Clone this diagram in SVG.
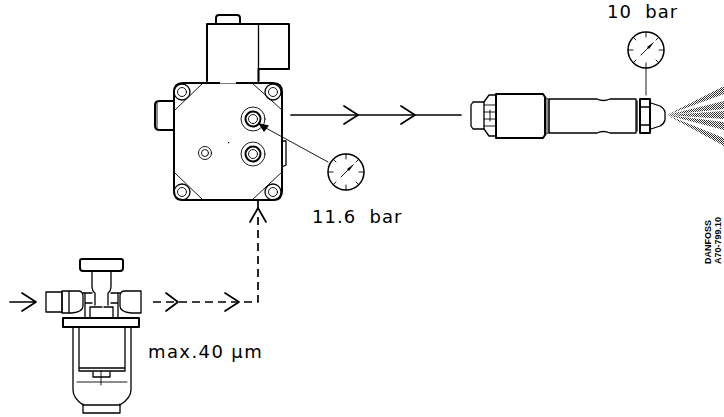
<svg xmlns="http://www.w3.org/2000/svg" width="724" height="417" viewBox="0 0 724 417">
<style>
.t{fill:none;stroke:#000;stroke-width:2;stroke-linejoin:round;stroke-linecap:round}
.m{fill:none;stroke:#000;stroke-width:1.3;stroke-linejoin:round;stroke-linecap:round}
.f{fill:none;stroke:#000;stroke-width:.9;stroke-linecap:round}
.c{fill:none;stroke:#000;stroke-width:1.7;stroke-linecap:round;stroke-linejoin:round}
.d{stroke-dasharray:8 5;stroke-linecap:butt}
.lab{font-family:"DejaVu Sans",sans-serif;font-size:18px;letter-spacing:1px;fill:#000}
.mk{font-family:"Liberation Sans",sans-serif;font-size:9px;font-weight:bold;fill:#000}
</style>
<defs>
<pattern id="dots" width="2" height="2" patternUnits="userSpaceOnUse"><rect width="1" height="1" fill="#000"/><rect x="1" y="1" width="1" height="1" fill="#000"/></pattern>
<g id="gauge">
<circle r="18" fill="#fff" stroke="#000" stroke-width="1.5"/>
<path class="f" d="M0-18V-13M0 18V13M-18 0H-13M18 0H13M-12.7-12.7L-10-10M12.700-12.700L10-10M-12.700 12.700L-10 10M12.700 12.700L10 10"/>
<path class="f" d="M-5 5L7-7" stroke-width="1.2"/>
<path d="M8-8L1-3L3-1Z" fill="#000"/>
</g>
</defs>

<g id="solenoid">
<path class="t" d="M216 24V18Q216 15 219 15H237Q240 15 240 18V24"/>
<path class="t" d="M207 81V24H289V69H259"/>
<path class="m" d="M258.500 24V81"/>
<path class="t" d="M258.500 69V81"/>
</g>

<g id="pump">
<path class="t" d="M174 101V92Q174 83 183 83H273Q282 83 282 92V191Q282 200 273 200H183Q174 200 174 191Z"/>
<rect x="220" y="81" width="16" height="2.500" fill="#fff"/>
<path class="t" d="M174 101H160Q155 101 155 105V126Q155 130 160 130H174"/>
<path class="f" d="M157 103V128"/>
<path class="m" d="M282 141H286V165L282 167"/>
<path class="f" d="M203 83L175 110M252 83L282 110M175 173L203 200M282 172L252 200"/>
<circle cx="182" cy="92" r="8" class="m"/><circle cx="182" cy="92" r="4.500" class="f"/>
<circle cx="273" cy="92" r="8" class="m"/><circle cx="273" cy="92" r="4.500" class="f"/>
<circle cx="182" cy="192" r="8" class="m"/><circle cx="182" cy="192" r="4.500" class="f"/>
<circle cx="273" cy="192" r="8" class="m"/><circle cx="273" cy="192" r="4.500" class="f"/>
<circle cx="253" cy="119" r="12" class="f"/><circle cx="253" cy="119" r="7.500" class="t"/><circle cx="253" cy="119" r="4.500" class="f"/>
<circle cx="253" cy="154" r="12" class="f"/><circle cx="253" cy="154" r="7.500" class="t"/><circle cx="253" cy="154" r="4.500" class="f"/>
<circle cx="205" cy="153" r="6.500" class="f"/><circle cx="205" cy="153" r="3.500" class="f"/>
<rect x="228" y="142" width="1.200" height="1.200" fill="#000"/>
</g>

<g id="gauge-pump"><use href="#gauge" x="346" y="172"/></g>
<g id="gauge-nozzle"><use href="#gauge" x="646" y="50"/></g>

<g id="filter">
<path class="t" d="M80 261Q80 259 82 259H121Q123 259 123 261V268Q123 271 120 271H83Q80 271 80 268Z"/>
<path class="m" d="M92 271V286Q92 291 95 293V305M111 271V286Q111 291 108 293V305"/>
<path class="m" d="M92 271H111"/>
<path class="m" d="M46 292H62V312H46Z"/>
<path class="m" d="M62 291H78Q83 291 83 296V306Q83 312 72 313H62ZM69 291V313"/>
<path class="m" d="M141 291H125Q120 291 120 296V306Q120 312 131 313H141Z"/>
<path class="m" d="M83 293H92M120 293H111M85 293V318M118 293V318M85 303H92M118 303H111"/>
<path class="m" d="M90 318V307H102M104 307H113V318"/>
<path class="t" d="M63 318H139V327H63Z"/>
<path class="m" d="M73 327V390Q73 398 83 405H120Q131 398 131 390V327"/>
<path class="m" d="M79 327V371H125V327M79 368H125"/>
<path class="m" d="M93 372V377H110V372"/>
<path class="f" d="M77 382H127M101 371V385"/>
<path class="m" d="M83 404V413H120V404"/>
</g>

<g id="nozzle">
<path class="m" d="M484 102H473L471 105V126L473 129H484V102Z"/>
<path class="m" d="M484 102L489 95H496M484 129L489 136H496"/>
<path class="t" d="M496 94H543L545 97V135L543 138H496Z"/>
<path class="f" d="M484 105H496M484 112H496M484 119H496M484 126H496M490 110V121"/>
<path class="f" d="M545 97L548 99M545 135L548 133"/>
<path class="m" d="M549 99H597Q603 102 610 99H636V133H610Q603 130 597 133H549Z"/>
<path class="f" d="M549 99V133M547 99V133"/>
<path class="t" d="M640 99H650V133H640Z"/>
<path class="m" d="M640 107H650M640 125H650"/>
<path class="m" d="M651 103L660 106Q664 108 665 112V120Q664 124 660 126L651 129"/>
<path class="m" d="M637 101V131"/>
<path d="M667 115L724 86V94Z M667 115L724 101V109Z M667 115L724 111V119Z M667 115L724 122V130Z M667 115L724 138V146Z" fill="url(#dots)" fill-opacity=".8"/>
</g>

<g id="connectors">
<path class="c" d="M291 115H461"/>
<path class="c" d="M344 106L358 115L344 124M401 106L415 115L401 124"/>
<path class="c" d="M258 200V208M250 222L258 208L266 222"/>
<path class="c d" d="M258 217V302H152"/>
<path class="c" d="M166 293L178 302L166 311M225 293L239 302L225 311"/>
<path class="c" d="M10 302H36M22 293L36 302L22 311"/>
<path class="f" d="M646 68V95" stroke-width="1.100"/>
<path class="f" d="M328 162L264 127" stroke-width="1.100"/>
<path d="M258 123L269 125.500L264 132Z" fill="#000"/>
</g>

<text class="lab" x="607" y="18" xml:space="preserve">10  bar</text>
<text class="lab" x="312" y="223" xml:space="preserve">11.6  bar</text>
<text class="lab" x="148" y="358" style="letter-spacing:1.4px">max.40 µm</text>
<text class="mk" transform="translate(711 264) rotate(-90)">DANFOSS</text>
<text class="mk" transform="translate(721 264) rotate(-90)">A70-799.10</text>
</svg>
